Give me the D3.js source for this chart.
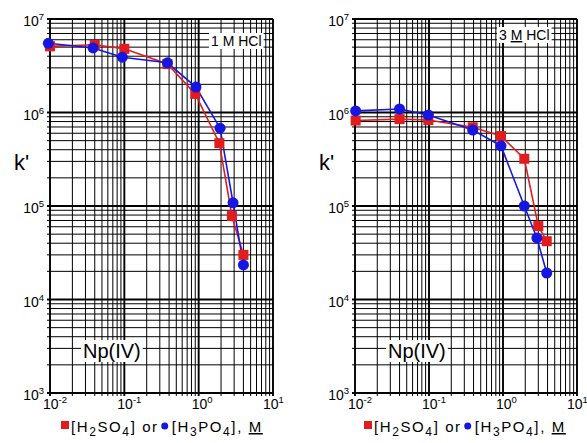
<!DOCTYPE html>
<html>
<head>
<meta charset="utf-8">
<script src="https://cdn.jsdelivr.net/npm/d3@7"></script>
<style>
    body { margin: 0; background: #fff; }
    text { font-family: "Liberation Sans", Arial, sans-serif; fill: #000; }
</style>
</head>
<body>
<svg width="587" height="443"></svg>
<script type="text/javascript">
    var svg = d3.select("svg");

    // tick exponents
    var xTickExp = [-2, -1, 0, 1];
    var yTickExp = [3, 4, 5, 6, 7];

    // 1 M HCl
    var concH2SO4_a = [0.01, 0.04, 0.1, 0.38, 0.9, 1.9, 2.8, 4.0];
    var kH2SO4_a = [5.1e6, 5.3e6, 4.8e6, 3.3e6, 1.58e6, 4.7e5, 7.8e4, 3.0e4];
    var concH3PO4_a = [0.0095, 0.038, 0.094, 0.38, 0.92, 1.94, 2.9, 4.0];
    var kH3PO4_a = [5.5e6, 4.9e6, 3.9e6, 3.4e6, 1.87e6, 6.8e5, 1.08e5, 2.34e4];

    // 3 M HCl
    var concH2SO4_b = [0.0102, 0.04, 0.098, 0.39, 0.94, 1.94, 3.0, 3.9];
    var kH2SO4_b = [8.2e5, 8.5e5, 8.3e5, 6.95e5, 5.6e5, 3.2e5, 6.1e4, 4.2e4];
    var concH3PO4_b = [0.0102, 0.04, 0.098, 0.39, 0.94, 1.94, 2.87, 3.9];
    var kH3PO4_b = [1.04e6, 1.09e6, 9.4e5, 6.5e5, 4.4e5, 1.0e5, 4.55e4, 1.92e4];

    var red = "#e01c1c", blue = "#1616e0";

    function logLines(e0, e1) {
        var out = [];
        for (var e = e0; e < e1; e++) {
            for (var d = 1; d <= 9; d++) out.push({v: d * Math.pow(10, e), major: d === 1});
        }
        out.push({v: Math.pow(10, e1), major: true});
        return out;
    }

    function drawPanel(box, sq, ci, hclText, underlineM) {
        var x = d3.scaleLog().domain([1e-2, 1e1]).range([box.left, box.right]);
        var y = d3.scaleLog().domain([1e3, 1e7]).range([box.bottom, box.top]);
        var g = svg.append("g");

        // log grid
        g.selectAll(".vx").data(logLines(-2, 1)).enter().append("line")
            .attr("x1", function (d) { return x(d.v); })
            .attr("x2", function (d) { return x(d.v); })
            .attr("y1", box.top).attr("y2", box.bottom + 3)
            .attr("stroke", "#000")
            .attr("stroke-width", function (d) { return d.major ? 1.9 : 1; });
        g.selectAll(".hy").data(logLines(3, 7)).enter().append("line")
            .attr("y1", function (d) { return y(d.v); })
            .attr("y2", function (d) { return y(d.v); })
            .attr("x1", box.left - 3).attr("x2", box.right)
            .attr("stroke", "#000")
            .attr("stroke-width", function (d) { return d.major ? 1.9 : 1; });

        // tick labels
        xTickExp.forEach(function (e, i) {
            var shift = i === xTickExp.length - 1 ? 10 : 7;
            var t = g.append("text").attr("x", x(Math.pow(10, e)) - shift).attr("y", box.bottom + 16)
                .attr("font-size", 14);
            t.append("tspan").text("10");
            t.append("tspan").attr("dy", -6).attr("font-size", 9.5).text(String(e));
        });
        yTickExp.forEach(function (e) {
            var t = g.append("text").attr("x", box.left - 6).attr("y", y(Math.pow(10, e)) + 7)
                .attr("text-anchor", "end").attr("font-size", 14);
            t.append("tspan").text("10");
            t.append("tspan").attr("dy", -6).attr("font-size", 9.5).text(String(e));
        });

        // axis title
        g.append("text").attr("x", box.left - 36).attr("y", 170)
            .attr("font-size", 22).text("k'");

        // lines and markers
        var line = d3.line()
            .x(function (d) { return x(d[0]); })
            .y(function (d) { return y(d[1]); });
        var sqData = d3.zip(sq[0], sq[1]), ciData = d3.zip(ci[0], ci[1]);
        g.append("path").datum(sqData).attr("d", line)
            .attr("fill", "none").attr("stroke", red).attr("stroke-width", 1.6);
        g.append("path").datum(ciData).attr("d", line)
            .attr("fill", "none").attr("stroke", blue).attr("stroke-width", 1.6);
        g.selectAll(".sq").data(sqData).enter().append("rect")
            .attr("x", function (d) { return x(d[0]) - 5; })
            .attr("y", function (d) { return y(d[1]) - 5; })
            .attr("width", 10).attr("height", 10).attr("fill", red);
        g.selectAll(".ci").data(ciData).enter().append("circle")
            .attr("cx", function (d) { return x(d[0]); })
            .attr("cy", function (d) { return y(d[1]); })
            .attr("r", 5.5).attr("fill", blue);

        // boxed labels
        function boxed(tx, ty, size, build) {
            var bg = g.append("rect").attr("fill", "#fff");
            var t = g.append("text").attr("x", tx).attr("y", ty).attr("font-size", size);
            build(t);
            var b = t.node().getBBox();
            bg.attr("x", b.x - 2).attr("y", b.y).attr("width", b.width + 4).attr("height", b.height);
        }
        boxed(box.hclX, box.hclY, 14, function (t) {
            t.append("tspan").text(hclText[0]);
            t.append("tspan").attr("text-decoration", underlineM ? "underline" : null).text("M");
            t.append("tspan").text(hclText[1]);
        });
        boxed(box.left + 33, 358, 20, function (t) { t.text("Np(IV)"); });

        // legend
        var lx = box.legendX, ly = 432;
        g.append("rect").attr("x", lx).attr("y", ly - 11).attr("width", 8).attr("height", 8).attr("fill", red);
        var t1 = g.append("text").attr("x", lx + 10).attr("y", ly).attr("font-size", 15)
            .attr("letter-spacing", 1.6);
        t1.append("tspan").text("[H");
        t1.append("tspan").attr("dy", 4).attr("font-size", 12).text("2");
        t1.append("tspan").attr("dy", -4).text("SO");
        t1.append("tspan").attr("dy", 4).attr("font-size", 12).text("4");
        t1.append("tspan").attr("dy", -4).text("] or");
        var w1 = t1.node().getComputedTextLength();
        var cx = lx + 10 + w1 + 6;
        g.append("circle").attr("cx", cx).attr("cy", ly - 6).attr("r", 3.5).attr("fill", blue);
        var t2 = g.append("text").attr("x", cx + 7).attr("y", ly).attr("font-size", 15)
            .attr("letter-spacing", 1.6);
        t2.append("tspan").text("[H");
        t2.append("tspan").attr("dy", 4).attr("font-size", 12).text("3");
        t2.append("tspan").attr("dy", -4).text("PO");
        t2.append("tspan").attr("dy", 4).attr("font-size", 12).text("4");
        t2.append("tspan").attr("dy", -4).text("], ");
        t2.append("tspan").attr("text-decoration", "underline").text("M");
    }

    drawPanel({left: 50, right: 273, top: 19, bottom: 393, hclX: 211, hclY: 46, legendX: 61},
        [concH2SO4_a, kH2SO4_a], [concH3PO4_a, kH3PO4_a], ["1 ", " HCl"], false);
    drawPanel({left: 355, right: 577, top: 19, bottom: 393, hclX: 499, hclY: 40, legendX: 364},
        [concH2SO4_b, kH2SO4_b], [concH3PO4_b, kH3PO4_b], ["3 ", " HCl"], true);
</script>
</body>
</html>
